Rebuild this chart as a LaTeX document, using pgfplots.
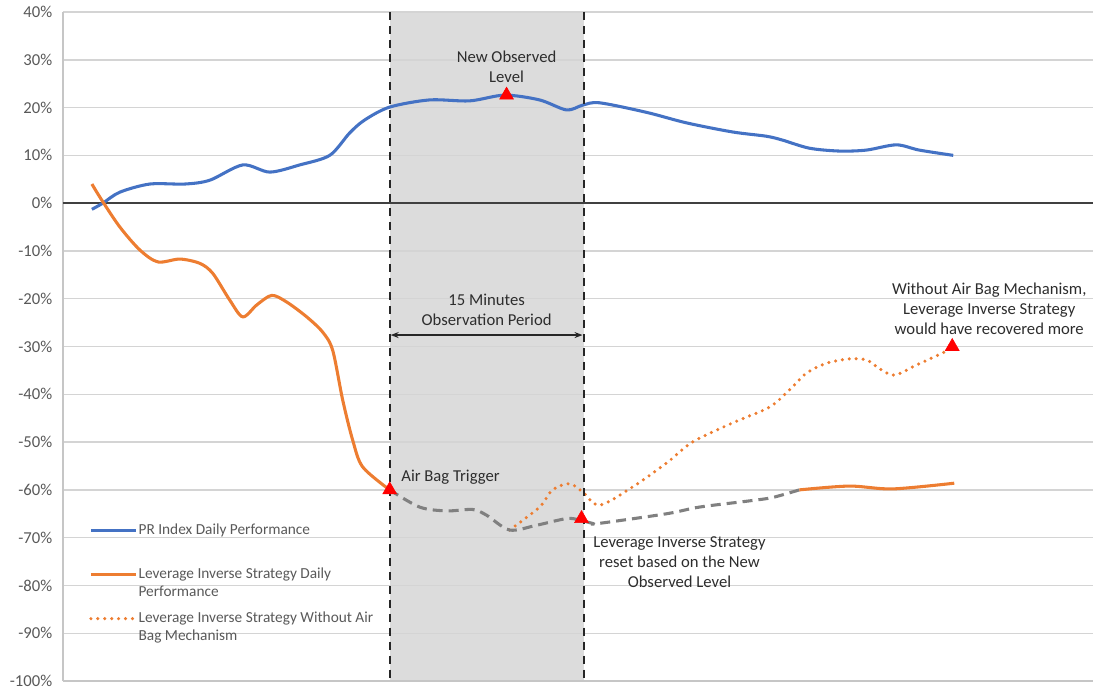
\documentclass[border=0pt]{standalone}
\usepackage{fontspec}
\setmainfont{Carlito}
\usepackage{pgfplots}
\pgfplotsset{compat=1.18}
\usetikzlibrary{arrows.meta}

\definecolor{pblue}{RGB}{68,114,196}
\definecolor{porange}{RGB}{237,125,49}
\definecolor{pgray}{RGB}{128,128,128}
\definecolor{tickgray}{RGB}{89,89,89}
\definecolor{gridgray}{RGB}{212,212,212}
\definecolor{obsgray}{RGB}{220,220,220}
\definecolor{notegray}{RGB}{45,45,45}

\begin{document}
\begin{tikzpicture}
\begin{axis}[
  set layers,
  scale only axis,
  width=773pt, height=502pt,
  xmin=63, xmax=1094,
  ymin=-100, ymax=40,
  ytick={-100,-90,...,40},
  xtick=\empty,
  ymajorgrids,
  grid style={gridgray, line width=1.1pt},
  axis lines*=left,
  axis line style={draw=gray!45, line width=1.1pt, -},
  major tick length=0pt,
  yticklabel={\pgfmathprintnumber{\tick}\%},
  /pgf/number format/assume math mode=true,
  tick label style={font=\fontsize{12.5}{14}\selectfont, text=tickgray},
  yticklabel style={xshift=-4.5pt},
  clip=false,
  legend style={at={(axis cs:89,-67.1)}, anchor=north west, draw=none, fill=none,
    inner sep=0pt, row sep=10pt, column sep=0pt,
    font=\fontsize{11.5}{13.5}\selectfont, text=tickgray,
    cells={anchor=base west, align=left},
    nodes={inner xsep=0.5pt, inner ysep=0pt}},
  legend image code/.code={\draw[#1] (0pt,16.5pt) -- (34pt,16.5pt);},
]

% shaded observation window
\begin{pgfonlayer}{axis background}
\fill[obsgray] (axis cs:390,-100) rectangle (axis cs:584,40);
\end{pgfonlayer}

\draw[black!75, line width=1.3pt] (axis cs:63,0) -- (axis cs:1094,0);

% PR index
\addplot[pblue, line width=2.3pt, smooth, tension=0.5] coordinates {
  (92,-1.3) (103,0) (120,2.3) (150,4) (185,4) (210,4.8) (243,8) (270,6.5)
  (300,8) (330,10) (350,14.7) (365,17.4) (390,20.1) (430,21.6) (470,21.4)
  (505,22.6) (540,21.6) (567,19.5) (583,20.5) (600,21) (647,19) (687,16.8)
  (733,14.9) (767,14.0) (783,13.2) (810,11.5) (840,10.9) (867,11.1) (897,12.2)
  (920,11.1) (954,10)
};
\addlegendentry{PR Index Daily Performance\\\vphantom{y}}

% leverage inverse strategy, before the trigger
\addplot[porange, line width=2.3pt, smooth, tension=0.5] coordinates {
  (92,4) (102,0.6) (120,-5) (140,-9.8) (158,-12.3) (180,-11.7) (200,-12.6)
  (213,-14.7) (230,-20.3) (243,-23.8) (257,-21.3) (272,-19.3) (287,-20.7)
  (307,-23.8) (323,-27) (333,-30.8) (343,-41.2) (353,-49.6) (363,-55.2) (390,-60)
};
\addlegendentry{Leverage Inverse Strategy Daily\\Performance}

% without air bag
\addplot[porange, line width=2.6pt, line cap=round, dash pattern=on 0pt off 5.2pt, smooth, tension=0.5] coordinates {
  (510,-68.4) (540,-63.6) (553,-60) (570,-58.7) (583,-60.4) (600,-63.2)
  (633,-59.4) (667,-54.4) (693,-50) (733,-46) (770,-42.7) (790,-39.1)
  (807,-35.6) (827,-33.5) (850,-32.6) (867,-32.8) (880,-34.6) (895,-36)
  (917,-33.9) (953,-30.4)
};
\addlegendentry{Leverage Inverse Strategy Without Air\\Bag Mechanism}

% air bag path
\addplot[pgray, line width=2.3pt, dash pattern=on 7.5pt off 4.5pt, smooth, tension=0.5, forget plot] coordinates {
  (390,-60) (420,-63.6) (447,-64.4) (473,-64.1) (487,-65.3) (510,-68.4)
  (537,-67.4) (567,-66) (580,-66.3) (593,-67) (600,-67) (667,-65)
  (700,-63.6) (750,-62.3) (773,-61.6) (800,-60)
};

% leverage inverse strategy, after the reset
\addplot[porange, line width=2.3pt, smooth, tension=0.5, forget plot] coordinates {
  (800,-60) (850,-59.2) (893,-59.8) (955,-58.6)
};

% observation window borders
\draw[black!85, line width=1.5pt, dash pattern=on 6pt off 4.5pt] (axis cs:390,40) -- (axis cs:390,-100);
\draw[black!85, line width=1.5pt, dash pattern=on 6pt off 4.5pt] (axis cs:584,40) -- (axis cs:584,-100);

% key points
\addplot[only marks, mark=triangle*, mark size=6pt, color=red, forget plot] coordinates {
  (390,-60) (507,22.6) (582,-66) (953,-30)
};

\draw[{Stealth[length=6pt]}-{Stealth[length=6pt]}, line width=1.1pt, black!85]
  (axis cs:391,-27.6) -- (axis cs:583,-27.6);

\begin{scope}[every node/.style={font=\fontsize{12.5}{15}\selectfont, text=notegray, align=center}]
\node at (axis cs:507,28.5) {New Observed\\Level};
\node[anchor=west] at (axis cs:397,-57.3) {Air Bag Trigger};
\node at (axis cs:487,-22.4) {15 Minutes\\Observation Period};
\node at (axis cs:680,-75.2) {Leverage Inverse Strategy\\reset based on the New\\Observed Level};
\node at (axis cs:990,-22.2) {Without Air Bag Mechanism,\\Leverage Inverse Strategy\\would have recovered more};
\end{scope}

\end{axis}
% page margins as in the reference
\path (current axis.south west) ++(-47.2pt,-4.5pt);
\path (current axis.north east) ++(0pt,9pt);
\end{tikzpicture}
\end{document}
